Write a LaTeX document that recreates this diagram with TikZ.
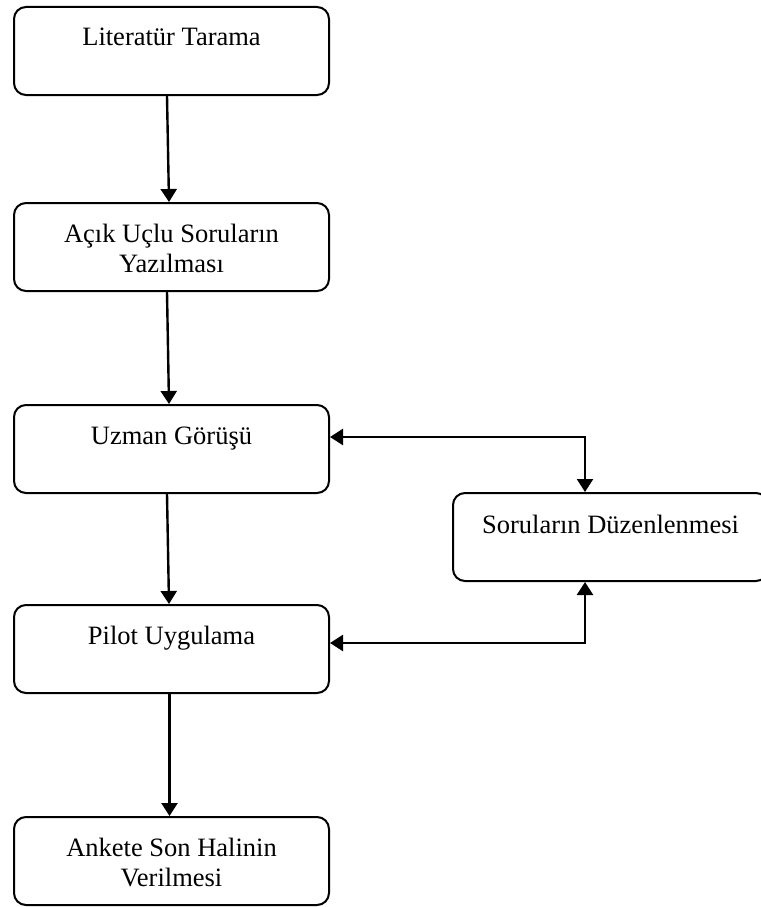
\documentclass[tikz,border=0pt]{standalone}
\usepackage{fontspec}
\setmainfont{Liberation Serif}
\usetikzlibrary{arrows.meta,calc}
\begin{document}
\begin{tikzpicture}[x=1pt,y=-1pt,
 box/.style={draw, line width=2pt, rounded corners=12pt, minimum width=315pt, minimum height=88pt, inner sep=0pt, anchor=north west},
 lbl/.style={font=\fontsize{26.5}{30}\selectfont, align=center, anchor=base, inner sep=0pt},
 arr/.style={line width=2.4pt, -{Triangle[length=13pt,width=16pt]}},
 darr/.style={line width=2.4pt, {Triangle[length=13pt,width=16pt]}-{Triangle[length=13pt,width=16pt]}}]
\useasboundingbox (0,0) rectangle (760,907);
\node[box] (b1) at (13,6) {};
\node[box] (b2) at (13,202) {};
\node[box] (b3) at (13,404) {};
\node[box] (b4) at (452,492) {};
\node[box] (b5) at (13,604) {};
\node[box] (b6) at (13,816) {};
\node[lbl] (t1) at ($(b1.north)+(0,40)$) {Literatür Tarama};
\node[lbl] (t2) at ($(b2.north)+(0,70)$) {Açık Uçlu Soruların\\Yazılması};
\node[lbl] (t3) at ($(b3.north)+(0,40)$) {Uzman Görüşü};
\node[lbl] (t4) at ($(b4.north)+(0,41)$) {Soruların Düzenlenmesi};
\node[lbl] (t5) at ($(b5.north)+(0,40)$) {Pilot Uygulama};
\node[lbl] (t6) at ($(b6.north)+(0,70)$) {Ankete Son Halinin\\Verilmesi};
\draw[arr] ([xshift=-4.5pt]b1.south) -- ([xshift=-2.5pt]b2.north);
\draw[arr] ([xshift=-4.5pt]b2.south) -- ([xshift=-2.5pt]b3.north);
\draw[arr] ([xshift=-4.5pt]b3.south) -- ([xshift=-2.5pt]b5.north);
\draw[arr] ([xshift=-2pt]b5.south) -- ([xshift=-2pt]b6.north);
\draw[darr] ([yshift=12pt]b3.east) -| ([xshift=-25.5pt]b4.north);
\draw[darr] ([yshift=6pt]b5.east) -| ([xshift=-25.5pt]b4.south);
\end{tikzpicture}
\end{document}
